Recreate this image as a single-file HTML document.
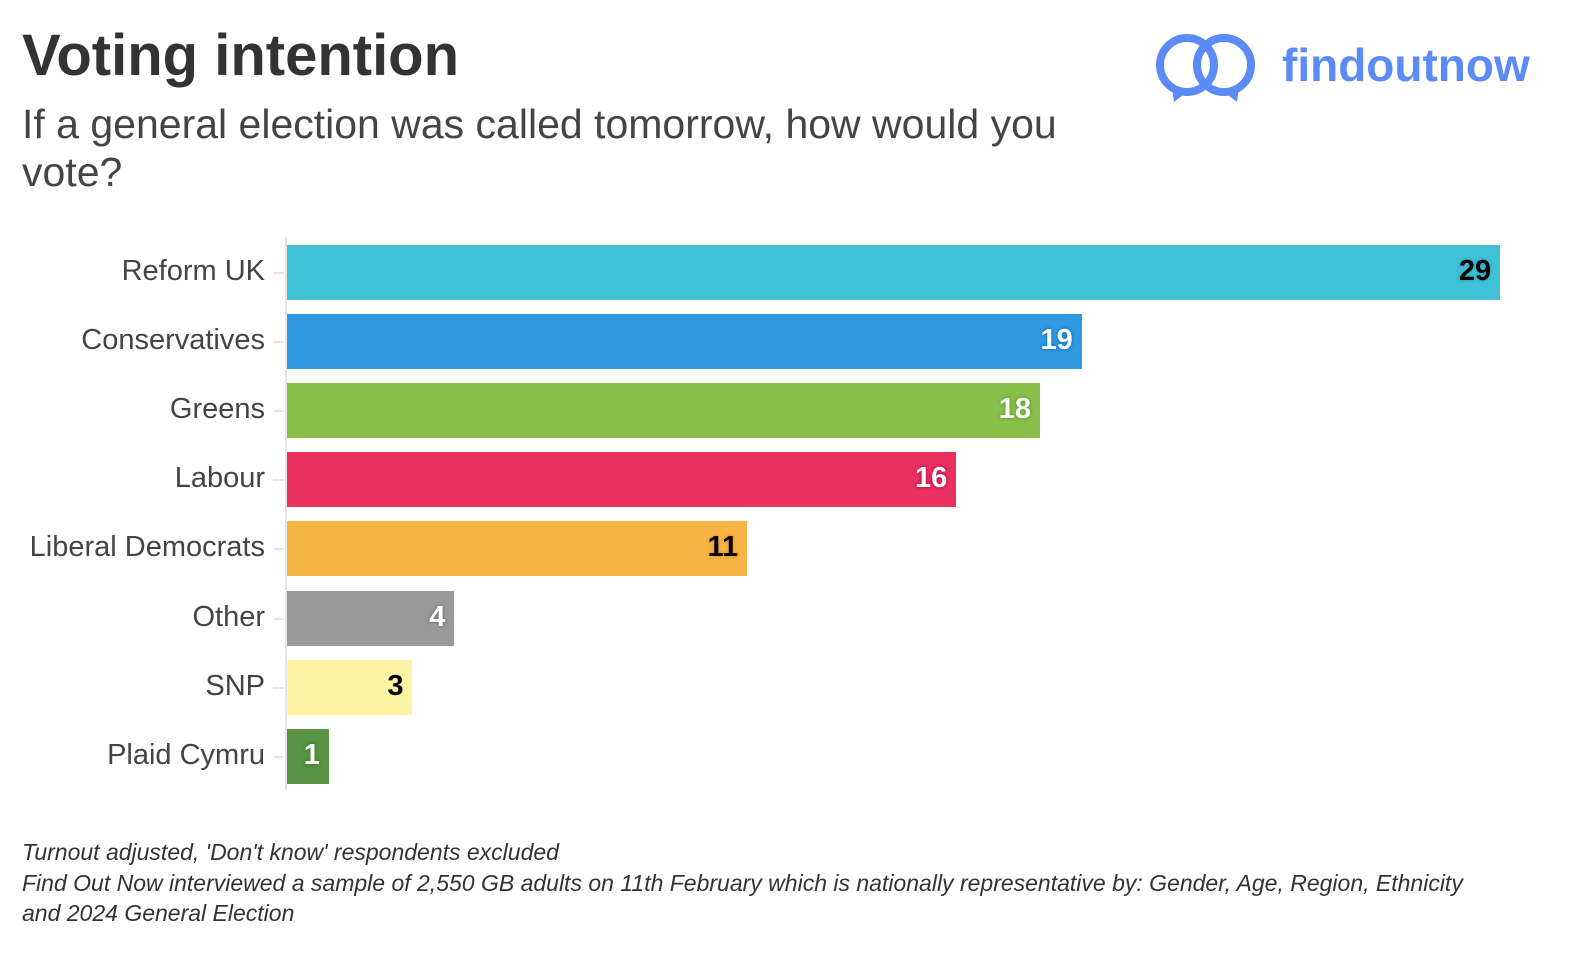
<!DOCTYPE html>
<html><head><meta charset="utf-8"><style>
body{margin:0;width:1590px;height:958px;background:#fff;font-family:"Liberation Sans",sans-serif;position:relative;overflow:hidden;color:#333}
.t{position:absolute;left:22px;top:22px;font-size:58px;font-weight:bold;color:#333}
.s{position:absolute;left:22px;top:100px;font-size:41px;line-height:48px;color:#444;width:1100px}
.axis{position:absolute;left:285px;top:237px;width:2px;height:553px;background:#e6e6e6}
.lab{position:absolute;right:1325px;font-size:29px;color:#444;text-align:right;white-space:nowrap}
.tick{position:absolute;left:273px;width:11px;height:2px;background:#e6e6e6}
.bar{position:absolute;left:287px;height:55px}
.v{position:absolute;font-size:29px;font-weight:bold;text-align:right}
.f{position:absolute;left:22px;font-size:23px;font-style:italic;color:#333}
</style></head><body>
<div class="t">Voting intention</div>
<div class="s">If a general election was called tomorrow, how would you vote?</div>
<svg style="position:absolute;left:1152px;top:30px" width="120" height="80" viewBox="0 0 120 80">
<circle cx="35" cy="35" r="27" fill="none" stroke="#5b8bf7" stroke-width="8"/>
<circle cx="72" cy="35" r="27" fill="none" stroke="#5b8bf7" stroke-width="8"/>
<path d="M20 58 L22 72 L35 62 Z M87 58 L85 72 L72 62 Z" fill="#5b8bf7"/>
</svg>
<div style="position:absolute;left:1282px;top:38px;font-size:46px;font-weight:bold;color:#5b8bf7">findoutnow</div>
<div class="axis"></div>
<div id="c"></div>
<script>
var d=[["Reform UK",29,"#40c1d6","#000","#2aa9be"],["Conservatives",19,"#2f9ae0","#fff","#1a78c0"],["Greens",18,"#86bf4a","#fff","#6a9e35"],["Labour",16,"#e9305f","#fff","#c01844"],["Liberal Democrats",11,"#f8b546","#000","#e59a20"],["Other",4,"#999999","#fff","#777"],["SNP",3,"#fdf4a3","#000","#fdf4a3"],["Plaid Cymru",1,"#5a9344","#fff","#3f7a2c"]];
var h="";d.forEach(function(r,i){var y=245+i*69.1,w=r[1]*41.83;
h+='<div class="lab" style="top:'+(y+10)+'px">'+r[0]+'</div><div class="tick" style="top:'+(y+27)+'px"></div><div class="bar" style="top:'+y+'px;width:'+w+'px;background:'+r[2]+'"></div><div class="v" style="top:'+(y+10)+'px;right:'+(1590-287-w+9)+'px;color:'+r[3]+';text-shadow:0 0 3px '+r[4]+',0 0 3px '+r[4]+'">'+r[1]+'</div>';});
document.getElementById("c").innerHTML=h;
</script>
<div class="f" style="top:839px">Turnout adjusted, 'Don't know' respondents excluded</div>
<div class="f" style="top:868px;width:1480px;line-height:30px">Find Out Now interviewed a sample of 2,550 GB adults on 11th February which is nationally representative by: Gender, Age, Region, Ethnicity and 2024 General Election</div>
</body></html>
